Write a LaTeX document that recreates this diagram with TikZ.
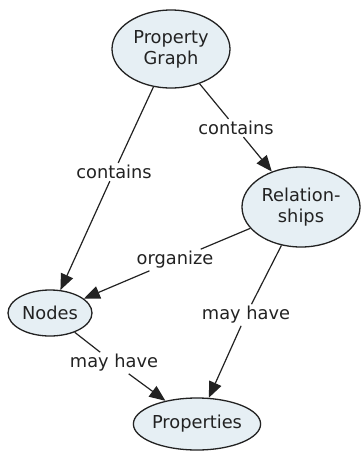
\documentclass[tikz,border=0pt]{standalone}
\usepackage{fontspec}
\setmainfont{DejaVu Sans}
\usetikzlibrary{arrows.meta,shapes.geometric}
\definecolor{nodefill}{HTML}{E6EFF4}
\definecolor{ink}{HTML}{222222}
\tikzset{
  concept/.style={ellipse, draw=ink, line width=1.3pt, fill=nodefill, inner sep=0pt, font=\fontsize{17.8}{21}\selectfont, text=ink, align=center},
  link/.style={draw=ink, line width=1.2pt, -{Triangle[length=16pt,width=13pt]}},
  lbl/.style={fill=white, inner sep=2pt, font=\fontsize{17.8}{21}\selectfont, text=ink}
}
\begin{document}
\begin{tikzpicture}[x=1pt,y=-1pt]
\useasboundingbox (0,0) rectangle (361,451);
\node[concept, minimum width=118pt, minimum height=78pt] (pg) at (171,49) {Property\\Graph};
\node[concept, minimum width=118pt, minimum height=80pt] (rel) at (301,207) {Relation-\\ships};
\node[concept, minimum width=84pt, minimum height=46pt] (nod) at (50,313) {Nodes};
\node[concept, minimum width=120pt, minimum height=52pt] (prop) at (197,424) {Properties};
\node[lbl] (c1) at (114,172) {contains};
\node[lbl] (c2) at (236,128) {contains};
\node[lbl] (org) at (175,260) {organize};
\node[lbl] (mh1) at (246,315) {may have};
\node[lbl] (mh2) at (114,363) {may have};
\draw[link] (pg) -- (c1) -- (nod);
\draw[link] (pg) -- (c2) -- (rel);
\draw[link] (rel) -- (org) -- (nod);
\draw[link] (rel) -- (mh1) -- (prop);
\draw[link] (nod) -- (mh2) -- (prop);
\end{tikzpicture}
\end{document}
